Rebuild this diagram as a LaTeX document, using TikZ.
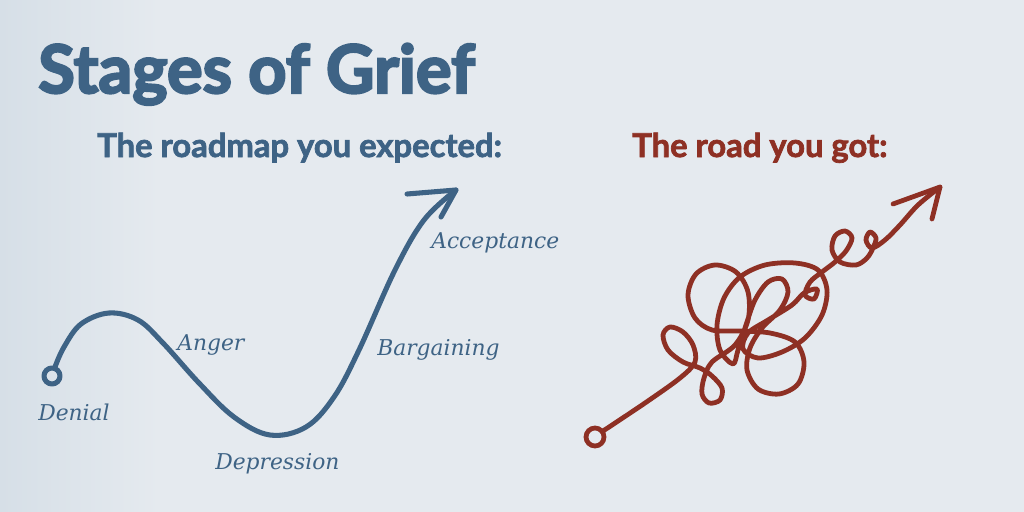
\documentclass[tikz,border=0pt]{standalone}
\usepackage{fontspec}
\setmainfont{DejaVu Serif}
\setsansfont{Lato}
\usepackage{xcolor}
\usetikzlibrary{positioning}
\definecolor{griefbg}{HTML}{E5EAEF}
\definecolor{griefbgdark}{HTML}{D6DFE7}
\definecolor{griefblue}{HTML}{3E6385}
\definecolor{griefred}{HTML}{8E3024}
% heavier lettering: fill and stroke the glyphs
\newcommand\heavy[2]{\special{pdf:literal direct 2 Tr #1 w}#2\special{pdf:literal direct 0 Tr}}
\tikzset{
  headtxt/.style={font=\sffamily\bfseries\fontsize{47.5}{54}\selectfont, text=griefblue, inner sep=0pt, anchor=base west},
  subtxt/.style={font=\sffamily\bfseries\fontsize{23.3}{28}\selectfont, inner sep=0pt, anchor=base west},
  lbl/.style={font=\itshape\fontsize{15.5}{18}\selectfont, text=griefblue, inner sep=0pt, anchor=base west},
  roadblue/.style={draw=griefblue, line width=3.6pt, line cap=round, line join=round},
  roadred/.style={draw=griefred, line width=3.4pt, line cap=round, line join=round},
}

\begin{document}
\begin{tikzpicture}[x=0.025cm, y=-0.025cm]
  % background
  \fill[griefbg] (0,0) rectangle (1024,512);
  \shade[left color=griefbgdark, right color=griefbg] (0,0) rectangle (160,512);
  \useasboundingbox (0,0) rectangle (1024,512);
  % titles
  \node[headtxt] (title) at (38,93) {\heavy{1.6}{Stages of Grief}};
  \node[subtxt, text=griefblue] (expected) at (97,157) {\heavy{0.5}{The roadmap you expected:}};
  \node[subtxt, text=griefred] (got) at (632,157) {\heavy{0.5}{The road you got:}};
  % expected road
  \coordinate (bstart) at (52,376);
  \coordinate (btip) at (456,190);
  \draw[roadblue] (bstart) circle (8);
  \draw[roadblue] plot[smooth, tension=0.6] coordinates {(55,367) (64,347) (81,324) (109,313) (138,320) (163,343) (199,383) (234,417) (270,435) (306,427) (334,397) (359,350) (395,270) (424,220) (456,190)};
  \draw[roadblue] (407,194) -- (btip) -- (441,217);
  % stage labels
  \node[lbl] (denial) at (38,420) {Denial};
  \node[lbl] (anger) at (177,350) {Anger};
  \node[lbl] (depression) at (215,469) {Depression};
  \node[lbl] (bargaining) at (377,355) {Bargaining};
  \node[lbl] (acceptance) at (431,248) {Acceptance};
  % real road
  \coordinate (rstart) at (595,437);
  \coordinate (rtip) at (940,187);
  \draw[roadred] (rstart) circle (9);
  \draw[roadred] plot[smooth, tension=0.55] coordinates {(603,431) (645,403) (680,378) (695,362)
    (693,345) (683,332) (670,327) (663,335) (668,350) (683,362) (700,368)
    (712,376) (722,388) (720,400) (709,403) (702,394) (704,378) (712,362)
    (735,345) (748,320) (748,292) (736,272) (715,265) (696,274) (688,295) (695,318) (712,330)
    (740,331) (770,333) (795,342)
    (804,362) (798,384) (779,394) (758,389) (747,370) (750,348) (762,328)
    (780,310) (788,292) (782,279) (768,282) (755,300) (746,325) (738,350) (733,364)
    (720,350) (717,325) (724,298) (740,277) (765,265) (795,263) (818,270) (827,290) (822,315) (805,338) (782,352) (758,358)
    (743,349) (748,333) (768,320) (792,305) (804,293)
    (817,289) (814,299) (805,295) (810,282) (822,272)
    (835,262) (846,251) (852,238) (845,231) (835,236) (832,250) (840,262) (856,265) (867,258)
    (873,248) (876,238) (870,232) (866,240) (872,248) (885,240)
    (900,225) (918,205) (940,187)};
  \draw[roadred] (893,204) -- (rtip) -- (932,219);
\end{tikzpicture}
\end{document}
